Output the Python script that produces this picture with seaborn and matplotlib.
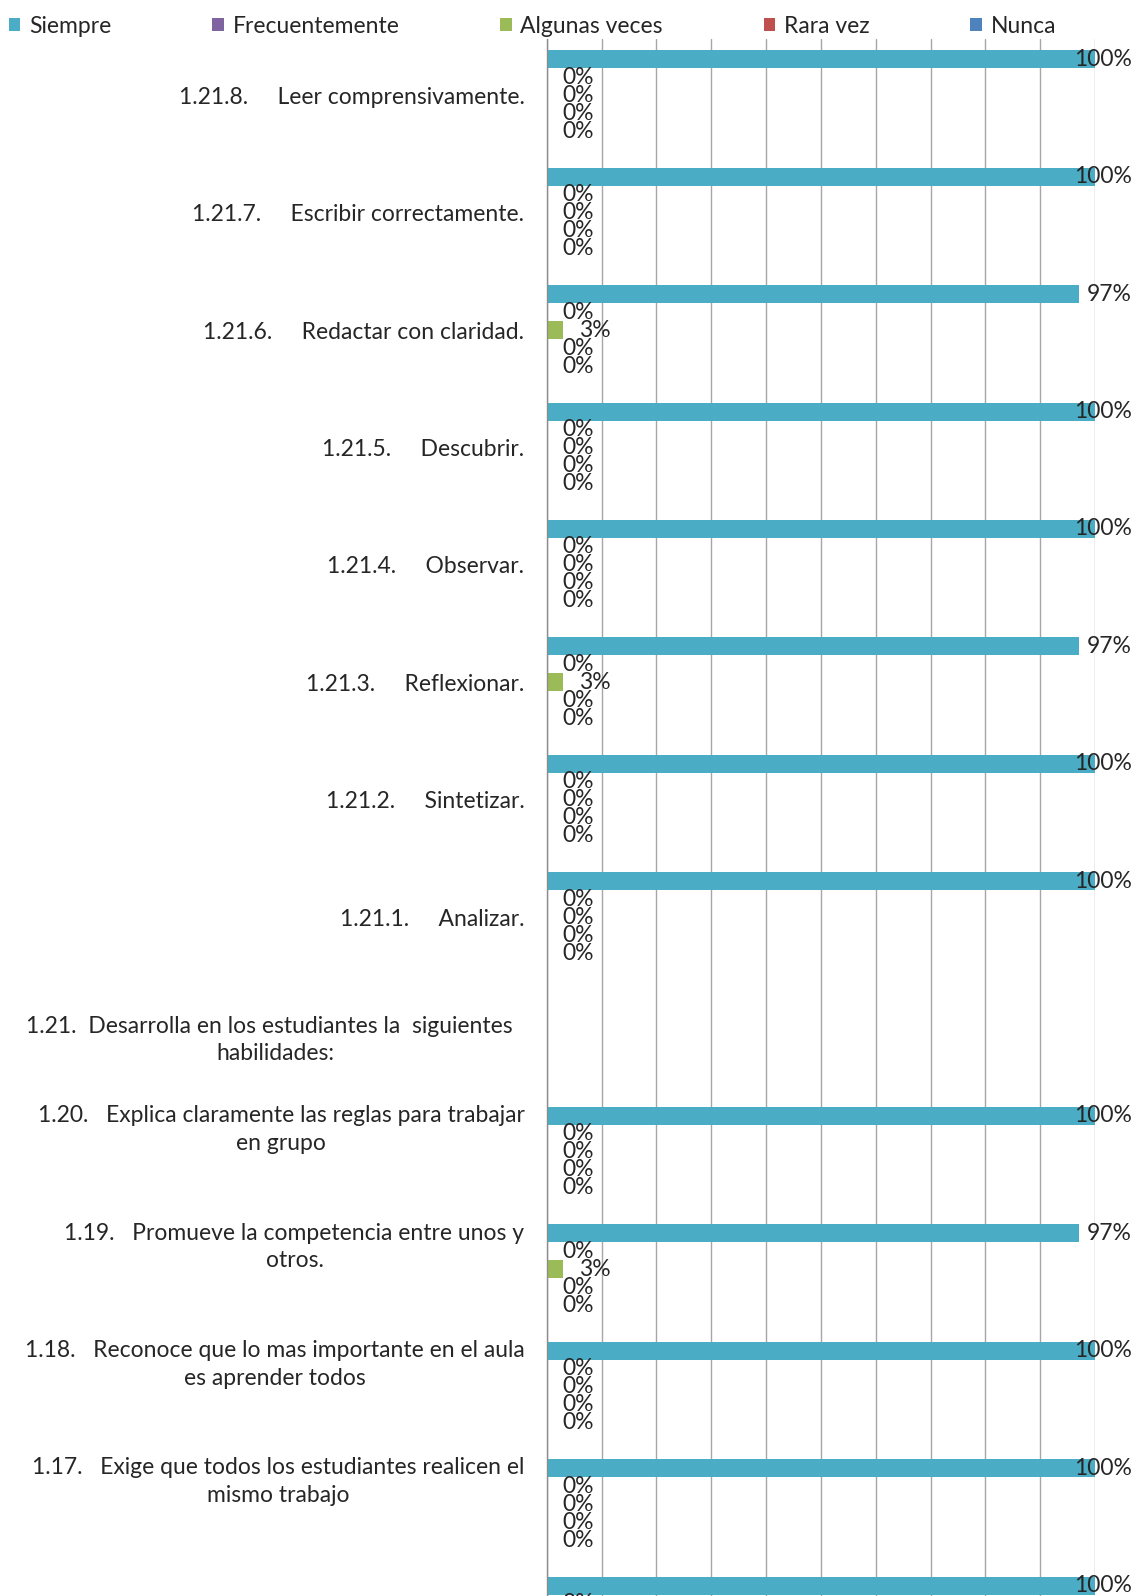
import numpy as np
import pandas as pd
import matplotlib
matplotlib.use("Agg")
import matplotlib.pyplot as plt
import seaborn as sns
from matplotlib.patches import Patch

nan = np.nan

categories = [
    "1.21.8.     Leer comprensivamente.",
    "1.21.7.     Escribir correctamente.",
    "1.21.6.     Redactar con claridad.",
    "1.21.5.     Descubrir.",
    "1.21.4.     Observar.",
    "1.21.3.     Reflexionar.",
    "1.21.2.     Sintetizar.",
    "1.21.1.     Analizar.",
    "1.21.  Desarrolla en los estudiantes la  siguientes  \nhabilidades:",
    "1.20.   Explica claramente las reglas para trabajar\nen grupo\n \n ",
    "1.19.   Promueve la competencia entre unos y\notros.\n \n ",
    "1.18.   Reconoce que lo mas importante en el aula\nes aprender todos\n \n ",
    "1.17.   Exige que todos los estudiantes realicen el\nmismo trabajo\n \n ",
    "1.16.",
]
series = ["Siempre", "Frecuentemente", "Algunas veces", "Rara vez", "Nunca"]
colors = ["#4BACC6", "#8064A2", "#9BBB59", "#C0504D", "#4F81BD"]

siempre        = [1.00, 1.00, 0.97, 1.00, 1.00, 0.97, 1.00, 1.00, nan, 1.00, 0.97, 1.00, 1.00, 1.00]
frecuentemente = [0.00, 0.00, 0.00, 0.00, 0.00, 0.00, 0.00, 0.00, nan, 0.00, 0.00, 0.00, 0.00, 0.00]
algunas_veces  = [0.00, 0.00, 0.03, 0.00, 0.00, 0.03, 0.00, 0.00, nan, 0.00, 0.03, 0.00, 0.00, 0.00]
rara_vez       = [0.00, 0.00, 0.00, 0.00, 0.00, 0.00, 0.00, 0.00, nan, 0.00, 0.00, 0.00, 0.00, 0.00]
nunca          = [0.00, 0.00, 0.00, 0.00, 0.00, 0.00, 0.00, 0.00, nan, 0.00, 0.00, 0.00, 0.00, 0.00]

values = [siempre, frecuentemente, algunas_veces, rara_vez, nunca]
rows = []
for s, vals in zip(series, values):
    for c, v in zip(categories, vals):
        rows.append({"categoria": c, "serie": s, "valor": v})
df = pd.DataFrame(rows).dropna()

sns.set_theme(style="white")
plt.rcParams["font.family"] = ["Lato", "DejaVu Sans"]
FS = 16.5
TXT = "#262626"

W, H, DPI = 1136, 1596, 100
fig = plt.figure(figsize=(W / DPI, H / DPI), dpi=DPI)
fig.patch.set_facecolor("white")

ax_left, ax_right = 546.7, 1095.0
top_px = 39.0
ytop, ybot = -0.48, 13.5
unit = 117.4
ax_h = (ybot - ytop) * unit
ax = fig.add_axes([ax_left / W, (H - top_px - ax_h) / H, (ax_right - ax_left) / W, ax_h / H])

sns.barplot(data=df, y="categoria", x="valor", hue="serie", order=categories,
            hue_order=series, palette=colors, orient="h", width=0.767,
            saturation=1, errorbar=None, legend=False, ax=ax, linewidth=0)

ax.set_xlim(0, 1)
ax.set_ylim(ybot, ytop)
ax.set_xticks(np.arange(0, 1.01, 0.1))
ax.xaxis.grid(True, color="#A6A6A6", linewidth=1.0)
ax.yaxis.grid(False)
ax.set_axisbelow(True)
for sp in ["top", "right", "bottom"]:
    ax.spines[sp].set_visible(False)
ax.spines["left"].set_color("#8C8C8C")
ax.spines["left"].set_linewidth(1.0)
ax.set_xlabel("")
ax.set_ylabel("")
ax.tick_params(axis="x", labelbottom=False, length=0)
ax.tick_params(axis="y", length=0, pad=16, labelsize=FS, labelcolor=TXT)
for lab in ax.get_yticklabels():
    lab.set_multialignment("center")
    lab.set_linespacing(1.4)

labels = []
for cont in ax.containers:
    labels += ax.bar_label(cont, fmt="{:.0%}", padding=11.5, fontsize=FS, color=TXT)

handles = [Patch(facecolor=c, edgecolor="none", label=s) for s, c in zip(series, colors)]
fig.legend(handles=handles, loc="center left", bbox_to_anchor=(9 / W, 1 - 26.5 / H),
           ncol=5, frameon=False, fontsize=FS, handlelength=0.5, handleheight=0.5,
           handletextpad=0.38, columnspacing=4.4, borderpad=0, borderaxespad=0,
           labelcolor=TXT)

fig.canvas.draw()
r = fig.canvas.get_renderer()
limit = W - 4
for t in labels:
    bb = t.get_window_extent(r)
    if bb.x1 > limit:
        dx = (bb.x1 - limit) * 72 / DPI
        t.xyann = (t.xyann[0] - dx, t.xyann[1])

fig.savefig("out.png", dpi=DPI, facecolor="white")
